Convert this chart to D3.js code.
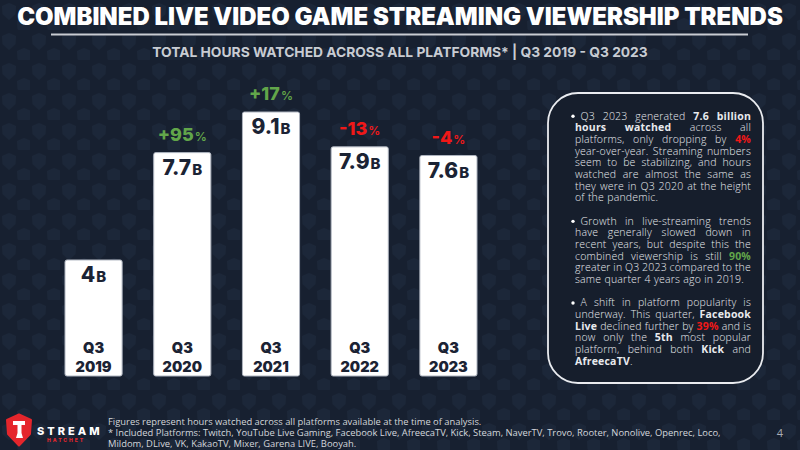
<!DOCTYPE html>
<html>
<head>
<meta charset="utf-8">
<script src="https://cdn.jsdelivr.net/npm/d3@7"></script>
<style>
  html, body { margin: 0; padding: 0; background: #172030; }
  svg { display: block; }
</style>
</head>
<body>
<svg id="chart" width="800" height="450"></svg>
<script>
// Data
const quarters = ['Q3 2019', 'Q3 2020', 'Q3 2021', 'Q3 2022', 'Q3 2023']
const hoursWatched = [4.0, 7.7, 9.1, 7.9, 7.6]   // billions
const valueLabels = ['4', '7.7', '9.1', '7.9', '7.6']
const yoyChange = [null, 95, 17, -13, -4]         // percent vs previous year

const titleText = 'COMBINED LIVE VIDEO GAME STREAMING VIEWERSHIP TRENDS'
const subtitleText = 'TOTAL HOURS WATCHED ACROSS ALL PLATFORMS* | Q3 2019 - Q3 2023'

// **bold**  [r:red bold]  [g:green bold]
const notes = [
  ['Q3 2023 generated **7.6 billion**',
   '**hours watched** across all',
   'platforms, only dropping by [r:4%]',
   'year-over-year. Streaming numbers',
   'seem to be stabilizing, and hours',
   'watched are almost the same as',
   'they were in Q3 2020 at the height',
   'of the pandemic.'],
  ['Growth in live-streaming trends',
   'have generally slowed down in',
   'recent years, but despite this the',
   'combined viewership is still [g:90%]',
   'greater in Q3 2023 compared to the',
   'same quarter 4 years ago in 2019.'],
  ['A shift in platform popularity is',
   'underway. This quarter, **Facebook**',
   '**Live** declined further by [r:39%] and is',
   'now only the **5th** most popular',
   'platform, behind both **Kick** and',
   '**AfreecaTV**.']
]

const footnotes = [
  'Figures represent hours watched across all platforms available at the time of analysis.',
  '* Included Platforms: Twitch, YouTube Live Gaming, Facebook Live, AfreecaTV, Kick, Steam, NaverTV, Trovo, Rooter, Nonolive, Openrec, Loco,',
  'Mildom, DLive, VK, KakaoTV, Mixer, Garena LIVE, Booyah.'
]

// Colours
const bgColor = '#172030'
const patternColor = '#1c2739'
const barColor = '#ffffff'
const darkText = '#1b2334'
const green = '#62a64a'
const red = '#f01818'
const headFont = 'Inter, "DejaVu Sans", sans-serif'
const bodyFont = '"Open Sans", "DejaVu Sans", sans-serif'

const svg = d3.select('#chart')

// background with faint shield pattern
const defs = svg.append('defs')
const pat = defs.append('pattern')
  .attr('id', 'shields')
  .attr('width', 30).attr('height', 30)
  .attr('patternUnits', 'userSpaceOnUse')
const shieldPath = 'M2,4 L9,1 L16,4 L15.5,12 L9,18 L2.5,12 Z'
pat.append('path').attr('d', shieldPath).attr('fill', patternColor)
  .attr('transform', 'translate(0,2)')
pat.append('path').attr('d', shieldPath).attr('fill', patternColor)
  .attr('transform', 'translate(15,17)')

svg.append('rect').attr('width', 800).attr('height', 450).attr('fill', bgColor)
svg.append('rect').attr('width', 800).attr('height', 450).attr('fill', 'url(#shields)')

// fit a text element to a given width by scaling its font size
function fitWidth(sel, width) {
  const w = sel.node().getComputedTextLength()
  const fs = parseFloat(sel.attr('font-size'))
  sel.attr('font-size', fs * width / w)
}

// Title
const title = svg.append('text')
  .attr('x', 400).attr('y', 25)
  .attr('text-anchor', 'middle')
  .attr('font-family', headFont)
  .attr('font-weight', 900)
  .attr('font-size', 20)
  .attr('fill', '#ffffff')
  .text(titleText)
fitWidth(title, 766)

svg.append('line')
  .attr('x1', 51).attr('x2', 748)
  .attr('y1', 34.5).attr('y2', 34.5)
  .attr('stroke', '#c9ccd2').attr('stroke-width', 2)

const subtitle = svg.append('text')
  .attr('x', 400).attr('y', 56.5)
  .attr('text-anchor', 'middle')
  .attr('font-family', headFont)
  .attr('font-weight', 700)
  .attr('font-size', 14)
  .attr('fill', '#c8ccd3')
  .text(subtitleText)
fitWidth(subtitle, 496)

// Scales
const x = d3.scaleBand()
  .domain(quarters)
  .range([65, 477])
  .paddingInner(0.356)
  .paddingOuter(0)

const y = d3.scaleLinear()
  .domain([0, d3.max(hoursWatched)])
  .range([376, 112])

const data = quarters.map((q, i) => ({
  q, v: hoursWatched[i], label: valueLabels[i], chg: yoyChange[i]
}))

const bars = svg.append('g').selectAll('g')
  .data(data)
  .join('g')

bars.append('rect')
  .attr('x', d => x(d.q))
  .attr('y', d => y(d.v))
  .attr('width', x.bandwidth())
  .attr('height', d => y(0) - y(d.v))
  .attr('rx', 2)
  .attr('fill', barColor)
  .attr('stroke', '#aeb4bf')
  .attr('stroke-width', 1)

// value label inside top of bar
const valText = bars.append('text')
  .attr('x', d => x(d.q) + x.bandwidth() / 2)
  .attr('y', d => y(d.v) + 22)
  .attr('text-anchor', 'middle')
  .attr('font-family', headFont)
  .attr('font-weight', 800)
  .attr('fill', darkText)
valText.append('tspan').attr('font-size', 21).text(d => d.label)
valText.append('tspan').attr('font-size', 15).attr('dx', 1).text('B')

// quarter label inside bottom of bar
const catText = bars.append('text')
  .attr('text-anchor', 'middle')
  .attr('font-family', headFont)
  .attr('font-weight', 900)
  .attr('font-size', 14.5)
  .attr('fill', darkText)
catText.append('tspan')
  .attr('x', d => x(d.q) + x.bandwidth() / 2)
  .attr('y', y(0) - 23.5)
  .text(d => d.q.split(' ')[0])
catText.append('tspan')
  .attr('x', d => x(d.q) + x.bandwidth() / 2)
  .attr('y', y(0) - 4.5)
  .text(d => d.q.split(' ')[1])

// year-over-year change above bar
const chgText = bars.filter(d => d.chg !== null).append('text')
  .attr('x', d => x(d.q) + x.bandwidth() / 2)
  .attr('y', d => y(d.v) - 12)
  .attr('text-anchor', 'middle')
  .attr('font-family', headFont)
  .attr('font-weight', 800)
  .attr('fill', d => d.chg >= 0 ? green : red)
chgText.append('tspan').attr('font-size', 18)
  .text(d => (d.chg > 0 ? '+' : '-') + Math.abs(d.chg))
chgText.append('tspan').attr('font-size', 12).attr('font-weight', 600).attr('dx', 1).text('%')

// Notes box
svg.append('rect')
  .attr('x', 548).attr('y', 93)
  .attr('width', 215).attr('height', 290)
  .attr('rx', 30)
  .attr('fill', '#161e2c')
  .attr('stroke', '#e9ebef')
  .attr('stroke-width', 1.8)

const noteLeft = 575, noteRight = 751, lineH = 11.67, noteFs = 10.5
const measure = svg.append('text')
  .attr('font-family', bodyFont).attr('font-size', noteFs)
  .attr('letter-spacing', 0.2)
  .attr('visibility', 'hidden')

function parseLine(str) {
  // returns list of words; each word is a list of pieces {t, bold, color}
  const re = /\*\*(.+?)\*\*|\[(r|g):(.+?)\]|([^*\[]+)/g
  const pieces = []
  let m
  while ((m = re.exec(str)) !== null) {
    if (m[1]) pieces.push({ t: m[1], bold: true, color: null })
    else if (m[2]) pieces.push({ t: m[3], bold: true, color: m[2] === 'r' ? red : green })
    else pieces.push({ t: m[4], bold: false, color: null })
  }
  const words = [[]]
  pieces.forEach(p => {
    p.t.split(' ').forEach((part, k) => {
      if (k > 0) words.push([])
      if (part.length) words[words.length - 1].push({ ...p, t: part })
    })
  })
  return words.filter(w => w.length)
}

function pieceWidth(p) {
  measure.attr('font-weight', p.bold ? 700 : 300).text(p.t)
  return measure.node().getComputedTextLength()
}

const notesG = svg.append('g')
let lineY = 119.5
notes.forEach(para => {
  para.forEach((line, li) => {
    const words = parseLine(line)
    const start = li === 0 ? 580.5 : noteLeft
    if (li === 0) {
      notesG.append('circle')
        .attr('cx', 573).attr('cy', lineY - 3.2).attr('r', 1.7)
        .attr('fill', '#ffffff')
    }
    const widths = words.map(w => w.map(pieceWidth))
    const total = d3.sum(widths, w => d3.sum(w))
    const isLast = li === para.length - 1
    const gap = (!isLast && words.length > 1)
      ? (noteRight - start - total) / (words.length - 1)
      : 3.2
    let cx = start
    const t = notesG.append('text')
      .attr('y', lineY)
      .attr('font-family', bodyFont)
      .attr('font-size', noteFs)
      .attr('font-weight', 300)
      .attr('letter-spacing', 0.2)
      .attr('fill', '#e8eaee')
    words.forEach((w, wi) => {
      w.forEach((p, pi) => {
        t.append('tspan')
          .attr('x', cx)
          .attr('font-weight', p.bold ? 700 : null)
          .attr('fill', p.color || null)
          .text(p.t)
        cx += widths[wi][pi]
      })
      cx += gap
    })
    lineY += lineH
  })
  lineY += lineH
})
measure.remove()

// Footer logo
const logo = svg.append('g')
logo.append('path')
  .attr('d', 'M7,420 L19,414.5 L31,420 L30,434 L19,445.5 L8,434 Z')
  .attr('fill', '#e5262c')
  .attr('stroke', '#e5262c').attr('stroke-width', 2).attr('stroke-linejoin', 'round')
logo.append('path')
  .attr('d', 'M13,421 L25,421 L25,425 L21.5,425 L21.5,433 L23,438 L16,438 L17.5,433 L17.5,425 L13,425 Z')
  .attr('fill', '#ffffff')
logo.append('text')
  .attr('x', 37).attr('y', 435)
  .attr('font-family', headFont).attr('font-weight', 800)
  .attr('font-size', 11).attr('letter-spacing', 3)
  .attr('fill', '#ffffff')
  .text('STREAM')
logo.append('text')
  .attr('x', 47).attr('y', 442)
  .attr('font-family', headFont).attr('font-weight', 800)
  .attr('font-size', 5).attr('letter-spacing', 2)
  .attr('fill', '#e5262c')
  .text('HATCHET')

const foot = svg.append('g')
  .attr('font-family', bodyFont)
  .attr('font-size', 9)
  .attr('fill', '#d3d6db')
footnotes.forEach((f, i) => {
  foot.append('text')
    .attr('x', 108).attr('y', 424.5 + i * 11)
    .text(f)
})
// match the long line width of the reference
const longLine = foot.selectAll('text').filter((d, i) => i === 1)
const scaleFs = 9 * 614 / longLine.node().getComputedTextLength()
foot.selectAll('text').attr('font-size', scaleFs)

svg.append('text')
  .attr('x', 780).attr('y', 437)
  .attr('text-anchor', 'middle')
  .attr('font-family', bodyFont).attr('font-size', 11)
  .attr('fill', '#a9aeb6')
  .text('4')
</script>
</body>
</html>
